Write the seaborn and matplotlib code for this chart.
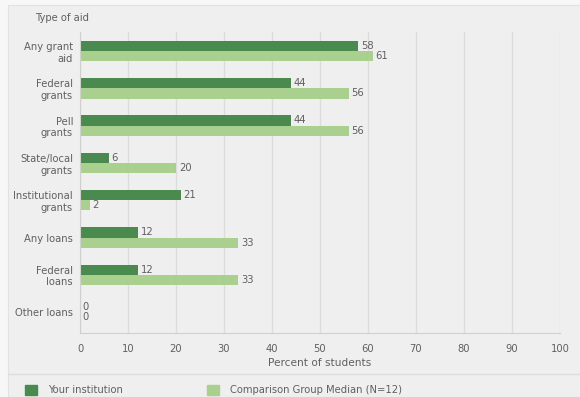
import pandas as pd
import matplotlib.pyplot as plt
import matplotlib.patches as mpatches
import seaborn as sns

# chart data
aid_types = ['Any grant\naid', 'Federal\ngrants', 'Pell\ngrants', 'State/local\ngrants',
             'Institutional\ngrants', 'Any loans', 'Federal\nloans', 'Other loans']
your_inst = [58, 44, 44, 6, 21, 12, 12, 0]
comparison = [61, 56, 56, 20, 2, 33, 33, 0]
series_names = ['Your institution', 'Comparison Group Median (N=12)']
x_ticks = [0, 10, 20, 30, 40, 50, 60, 70, 80, 90, 100]

colors = ['#4a8a4e', '#a9d08e']
text_color = '#606060'
bg = '#efefef'
fs = 7.2

df = pd.DataFrame({
    'Type of aid': aid_types * 2,
    'Percent': your_inst + comparison,
    'Group': [series_names[0]] * len(aid_types) + [series_names[1]] * len(aid_types),
})

sns.set_style('white')
plt.rcParams['font.family'] = ['DejaVu Sans']

fig = plt.figure(figsize=(5.8, 3.97), dpi=100, facecolor='#f7f7f7')
fig.patches.append(mpatches.Rectangle((8 / 580, 0), 1, 1 - 5 / 397, transform=fig.transFigure,
                                      facecolor=bg, edgecolor='#e2e2e2', lw=0.8, zorder=-10))
ax = fig.add_axes([80 / 580, 1 - 333 / 397, 480 / 580, 301 / 397])
ax.set_facecolor(bg)
ax.set_zorder(5)

sns.barplot(data=df, y='Type of aid', x='Percent', hue='Group', orient='h',
            palette=colors, width=0.55, ax=ax, legend=False, saturation=1, linewidth=0)

for cont in ax.containers:
    ax.bar_label(cont, fmt='%g', padding=2, fontsize=fs, color=text_color)

ax.set_xlim(0, 100)
ax.set_ylim(7.56, -0.51)
ax.set_xticks(x_ticks)
ax.grid(axis='x', color='#dcdcdc', lw=1)
ax.set_axisbelow(True)
for s in ['top', 'right']:
    ax.spines[s].set_visible(False)
ax.spines['left'].set_color('#d0d0d0')
ax.spines['bottom'].set_color('#d0d0d0')
ax.tick_params(axis='both', labelsize=fs, colors=text_color, length=0, pad=5)
ax.tick_params(axis='x', length=5, color='#d0d0d0', pad=3)
for lbl in ax.get_yticklabels():
    lbl.set_multialignment('right')
ax.set_ylabel('')
ax.set_xlabel('Percent of students', fontsize=fs + 0.4, color=text_color, labelpad=3)
fig.text(35 / 580, 1 - 18 / 397, 'Type of aid', fontsize=fs, color=text_color, va='center')

# legend area separator
fig.add_artist(plt.Line2D([8 / 580, 1], [1 - 374 / 397] * 2, transform=fig.transFigure,
                          color='#dcdcdc', lw=1))
for c, n, x0 in zip(colors, series_names, [25 / 580, 207 / 580]):
    fig.legend(handles=[mpatches.Patch(color=c, label=n)], loc='lower left',
               bbox_to_anchor=(x0, 0.004), borderpad=0, borderaxespad=0,
               frameon=False, fontsize=fs, labelcolor=text_color, handlelength=1.2,
               handleheight=1.2, handletextpad=1.1)

plt.savefig('out.png', dpi=100, facecolor=fig.get_facecolor())
